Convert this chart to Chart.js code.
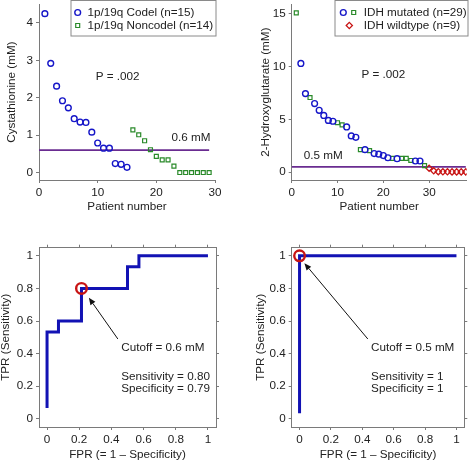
<!DOCTYPE html>
<html lang="en">
<head>
<meta charset="UTF-8">
<title>Cystathionine / 2-HG ROC</title>
<script src="https://cdn.jsdelivr.net/npm/chart.js@4"></script>
<style>
  body { margin: 0; background: #fff; }
  #wrap { position: relative; width: 472px; height: 464px; }
  .panel { position: absolute; width: 236px; height: 232px; }
</style>
</head>
<body>
<div id="wrap">
  <div class="panel" style="left:0;top:0"><canvas id="cys" width="236" height="232"></canvas></div>
  <div class="panel" style="left:236px;top:0"><canvas id="hg" width="236" height="232"></canvas></div>
  <div class="panel" style="left:0;top:232px"><canvas id="rocCys" width="236" height="232"></canvas></div>
  <div class="panel" style="left:236px;top:232px"><canvas id="rocHg" width="236" height="232"></canvas></div>
</div>
<script>
// --- top left: cystathionine by patient (sorted within group)
const codelVals = [4.25, 2.92, 2.31, 1.92, 1.73, 1.44, 1.35, 1.34, 1.08, 0.79, 0.65, 0.65, 0.24, 0.22, 0.14];
const noncodelVals = [1.14, 1.01, 0.85, 0.61, 0.43, 0.34, 0.34, 0.17, 0, 0, 0, 0, 0, 0];
const cysCutoff = 0.6;
const cysTicksX = [0, 10, 20, 30];
const cysTicksY = [0, 1, 2, 3, 4];

// --- top right: 2-hydroxyglutarate by patient
const mutCircleX = [2, 3, 5, 6, 7, 8, 9, 12, 13, 14, 16, 18, 19, 20, 21, 23, 27, 28];
const mutCircleY = [10.3, 7.44, 6.5, 5.86, 5.37, 4.9, 4.82, 4.28, 3.43, 3.3, 2.13, 1.76, 1.7, 1.57, 1.36, 1.27, 1.05, 1.05];
const mutSquareX = [1, 4, 10, 11, 15, 17, 22, 24, 25, 26, 29];
const mutSquareY = [15.1, 7.07, 4.68, 4.48, 2.13, 2.04, 1.3, 1.3, 1.3, 1.1, 0.62];
const wildX = [30, 31, 32, 33, 34, 35, 36, 37, 38];
const wildY = [0.37, 0.12, 0.04, 0.03, 0.03, 0.02, 0.02, 0.02, 0.02];
const hgCutoff = 0.5;
const hgTicksX = [0, 10, 20, 30];
const hgTicksY = [0, 5, 10, 15];

// --- ROC curves
const rocCysFpr = [0, 0, 0.071, 0.214, 0.5, 0.571, 1];
const rocCysTpr = [0.067, 0.533, 0.6, 0.8, 0.933, 1, 1];
const rocCysPick = { x: 0.214, y: 0.8 };
const rocHgFpr = [0, 0, 1];
const rocHgTpr = [0.034, 1, 1];
const rocHgPick = { x: 0, y: 1 };
const rocTicks = [0, 0.2, 0.4, 0.6, 0.8, 1];

const FONT = { family: "'Liberation Sans', Arial, sans-serif", size: 11.7 };
const TEXT = '#222';
const AXIS = '#7a7a7a';
const BLUE = '#1616c8';
const CURVE = '#1212b4';
const GREEN = '#2a8a2a';
const RED = '#c81414';
const PURPLE = '#6a2c91';

function pts(xs, ys) { return xs.map((x, i) => ({ x: x, y: ys[i] })); }

function axis(pos, min, max, ticks, size, labels, title, titlePad) {
  return {
    type: 'linear', position: pos, min: min, max: max,
    afterBuildTicks: s => { s.ticks = ticks.map(v => ({ value: v })); },
    afterFit: s => {
      if (s.isHorizontal()) s.height = size; else s.width = size;
      s.paddingTop = s.paddingBottom = s.paddingLeft = s.paddingRight = 0;
    },
    ticks: { display: labels, padding: 3, color: TEXT, font: FONT, callback: v => String(v) },
    grid: { drawOnChartArea: false, drawTicks: true, tickLength: 3, color: AXIS },
    border: { display: true, color: AXIS, width: 1 },
    title: title ? { display: true, text: title, color: TEXT, font: FONT, padding: titlePad } : { display: false }
  };
}

function drawMarker(ctx, ds, cx, cy) {
  const r = ds.pointRadius;
  ctx.save();
  ctx.strokeStyle = ds.pointBorderColor;
  ctx.lineWidth = ds.pointBorderWidth;
  ctx.beginPath();
  if (ds.pointStyle === 'circle') {
    ctx.arc(cx, cy, r, 0, Math.PI * 2);
  } else if (ds.pointStyle === 'rect') {
    const h = r * Math.SQRT1_2;
    ctx.rect(cx - h, cy - h, 2 * h, 2 * h);
  } else {
    ctx.moveTo(cx, cy - r); ctx.lineTo(cx + r, cy); ctx.lineTo(cx, cy + r); ctx.lineTo(cx - r, cy); ctx.closePath();
  }
  ctx.stroke();
  ctx.restore();
}

const panelNotes = {
  id: 'panelNotes',
  afterDraw(chart, args, opts) {
    const { ctx } = chart;
    const x = chart.scales.x, y = chart.scales.y;
    ctx.save();
    ctx.font = FONT.size + 'px ' + FONT.family;
    ctx.fillStyle = TEXT;
    ctx.textBaseline = 'middle';
    (opts.texts || []).forEach(t => {
      ctx.textAlign = t.align || 'left';
      ctx.fillText(t.text, x.getPixelForValue(t.x), y.getPixelForValue(t.y));
    });
    if (opts.arrow) {
      const a = opts.arrow;
      const x1 = x.getPixelForValue(a.from[0]), y1 = y.getPixelForValue(a.from[1]);
      const x2 = x.getPixelForValue(a.to[0]), y2 = y.getPixelForValue(a.to[1]);
      const ang = Math.atan2(y2 - y1, x2 - x1);
      const hl = 7, hw = 3;
      ctx.strokeStyle = '#111';
      ctx.fillStyle = '#111';
      ctx.lineWidth = 1;
      ctx.beginPath();
      ctx.moveTo(x1, y1);
      ctx.lineTo(x2 - Math.cos(ang) * hl, y2 - Math.sin(ang) * hl);
      ctx.stroke();
      ctx.beginPath();
      ctx.moveTo(x2, y2);
      ctx.lineTo(x2 - Math.cos(ang) * hl - Math.sin(ang) * hw, y2 - Math.sin(ang) * hl + Math.cos(ang) * hw);
      ctx.lineTo(x2 - Math.cos(ang) * hl + Math.sin(ang) * hw, y2 - Math.sin(ang) * hl - Math.cos(ang) * hw);
      ctx.closePath();
      ctx.fill();
    }
    if (opts.legend) {
      const lg = opts.legend;
      ctx.fillStyle = '#fff';
      ctx.strokeStyle = '#8a8a8a';
      ctx.lineWidth = 1;
      ctx.fillRect(lg.x, lg.y, lg.w, lg.h);
      ctx.strokeRect(lg.x, lg.y, lg.w, lg.h);
      lg.rows.forEach(row => {
        row.marks.forEach(m => drawMarker(ctx, chart.data.datasets[m.ds], lg.x + m.dx, lg.y + row.dy));
        ctx.fillStyle = TEXT;
        ctx.textAlign = 'left';
        ctx.fillText(chart.data.datasets[row.marks[0].ds].label, lg.x + row.textDx, lg.y + row.dy);
      });
    }
    ctx.restore();
  }
};

function marker(label, data, style, color, r, bw) {
  return {
    label: label, data: data, showLine: false,
    pointStyle: style, pointRadius: r, pointHoverRadius: r,
    pointBorderColor: color, pointBorderWidth: bw,
    pointBackgroundColor: 'rgba(0,0,0,0)', borderColor: color, backgroundColor: 'rgba(0,0,0,0)'
  };
}

function hline(value, x0, x1) {
  return {
    label: '', data: [{ x: x0, y: value }, { x: x1, y: value }], showLine: true,
    pointRadius: 0, borderColor: PURPLE, borderWidth: 1.7
  };
}

const base = {
  responsive: false, animation: false, devicePixelRatio: 1,
  events: []
};

// top left
new Chart(document.getElementById('cys'), {
  type: 'scatter',
  data: {
    datasets: [
      marker('1p/19q Codel (n=15)', codelVals.map((v, i) => ({ x: i + 1, y: v })), 'circle', BLUE, 2.9, 1.4),
      marker('1p/19q Noncodel (n=14)', noncodelVals.map((v, i) => ({ x: codelVals.length + i + 1, y: v })), 'rect', GREEN, 2.8, 1.2),
      hline(cysCutoff, 0, 29)
    ]
  },
  options: Object.assign({}, base, {
    layout: { padding: { left: 0, top: 0, right: 21, bottom: 0 } },
    scales: {
      x: axis('bottom', 0, 30, cysTicksX, 52, true, 'Patient number', { top: 0, bottom: 18 }),
      y: axis('left', -0.2, 4.5, cysTicksY, 39, true, 'Cystathionine (mM)', { top: 5, bottom: 0 })
    },
    plugins: {
      legend: { display: false }, tooltip: { enabled: false },
      panelNotes: {
        texts: [
          { text: 'P = .002', x: 13.4, y: 2.57, align: 'center' },
          { text: '0.6 mM', x: 25.9, y: 0.92, align: 'center' }
        ],
        legend: {
          x: 71, y: 0.5, w: 145, h: 35.5,
          rows: [
            { dy: 12, textDx: 16.5, marks: [{ ds: 0, dx: 6.7 }] },
            { dy: 25, textDx: 16.5, marks: [{ ds: 1, dx: 6.7 }] }
          ]
        }
      }
    }
  }),
  plugins: [panelNotes]
});

// top right
new Chart(document.getElementById('hg'), {
  type: 'scatter',
  data: {
    datasets: [
      marker('IDH mutated (n=29)', pts(mutCircleX, mutCircleY), 'circle', BLUE, 2.9, 1.4),
      marker('IDH mutated (n=29)', pts(mutSquareX, mutSquareY), 'rect', GREEN, 2.8, 1.2),
      marker('IDH wildtype (n=9)', pts(wildX, wildY), 'rectRot', RED, 3.1, 1.3),
      hline(hgCutoff, 0, 38)
    ]
  },
  options: Object.assign({}, base, {
    layout: { padding: { left: 0, top: 0, right: 5.3, bottom: 0 } },
    scales: {
      x: axis('bottom', 0, 38.2, hgTicksX, 52, true, 'Patient number', { top: 0, bottom: 18 }),
      y: axis('left', -0.75, 15.9, hgTicksY, 55.7, true, '2-Hydroxyglutarate (mM)', { top: 23, bottom: 0 })
    },
    plugins: {
      legend: { display: false }, tooltip: { enabled: false },
      panelNotes: {
        texts: [
          { text: 'P = .002', x: 20.0, y: 9.19, align: 'center' },
          { text: '0.5 mM', x: 6.9, y: 1.51, align: 'center' }
        ],
        legend: {
          x: 99, y: 0.5, w: 133, h: 35.5,
          rows: [
            { dy: 12, textDx: 28.7, marks: [{ ds: 0, dx: 8.3 }, { ds: 1, dx: 18.7 }] },
            { dy: 25, textDx: 28.7, marks: [{ ds: 2, dx: 14.3 }] }
          ]
        }
      }
    }
  }),
  plugins: [panelNotes]
});

function rocChart(id, fpr, tpr, pick, yWidth, rightWidth, yTitlePad, notes) {
  return new Chart(document.getElementById(id), {
    type: 'scatter',
    data: {
      datasets: [
        {
          label: 'cutoff', data: [pick], showLine: false, clip: false,
          pointStyle: 'circle', pointRadius: 5.3, pointBorderWidth: 2.4,
          pointBorderColor: RED, pointBackgroundColor: 'rgba(0,0,0,0)'
        },
        {
          label: 'ROC', data: pts(fpr, tpr), showLine: true, stepped: 'before', clip: false,
          pointRadius: 0, borderColor: CURVE, borderWidth: 3, borderCapStyle: 'butt'
        }
      ]
    },
    options: Object.assign({}, base, {
      layout: { padding: 0 },
      scales: {
        x: axis('bottom', -0.05, 1.05, rocTicks, 37, true, 'FPR (= 1 \u2013 Specificity)', { top: 0, bottom: 2 }),
        x2: Object.assign(axis('top', -0.05, 1.05, rocTicks, 15.7, false, null), { axis: 'x' }),
        y: axis('left', -0.05, 1.05, rocTicks, yWidth, true, 'TPR (Sensitivity)', { top: yTitlePad, bottom: 0 }),
        y2: Object.assign(axis('right', -0.05, 1.05, rocTicks, rightWidth, false, null), { axis: 'y' })
      },
      plugins: {
        legend: { display: false }, tooltip: { enabled: false },
        panelNotes: notes
      }
    }),
    plugins: [panelNotes]
  });
}

rocChart('rocCys', rocCysFpr, rocCysTpr, rocCysPick, 39, 20, -1, {
  texts: [
    { text: 'Cutoff = 0.6 mM', x: 0.461, y: 0.435 },
    { text: 'Sensitivity = 0.80', x: 0.461, y: 0.259 },
    { text: 'Specificity = 0.79', x: 0.461, y: 0.182 }
  ],
  arrow: { from: [0.44, 0.49], to: [0.26, 0.743] }
});

rocChart('rocHg', rocHgFpr, rocHgTpr, rocHgPick, 55.7, 3.7, 17.7, {
  texts: [
    { text: 'Cutoff = 0.5 mM', x: 0.456, y: 0.435 },
    { text: 'Sensitivity = 1', x: 0.456, y: 0.259 },
    { text: 'Specificity = 1', x: 0.456, y: 0.182 }
  ],
  arrow: { from: [0.435, 0.49], to: [0.031, 0.955] }
});
</script>
</body>
</html>
